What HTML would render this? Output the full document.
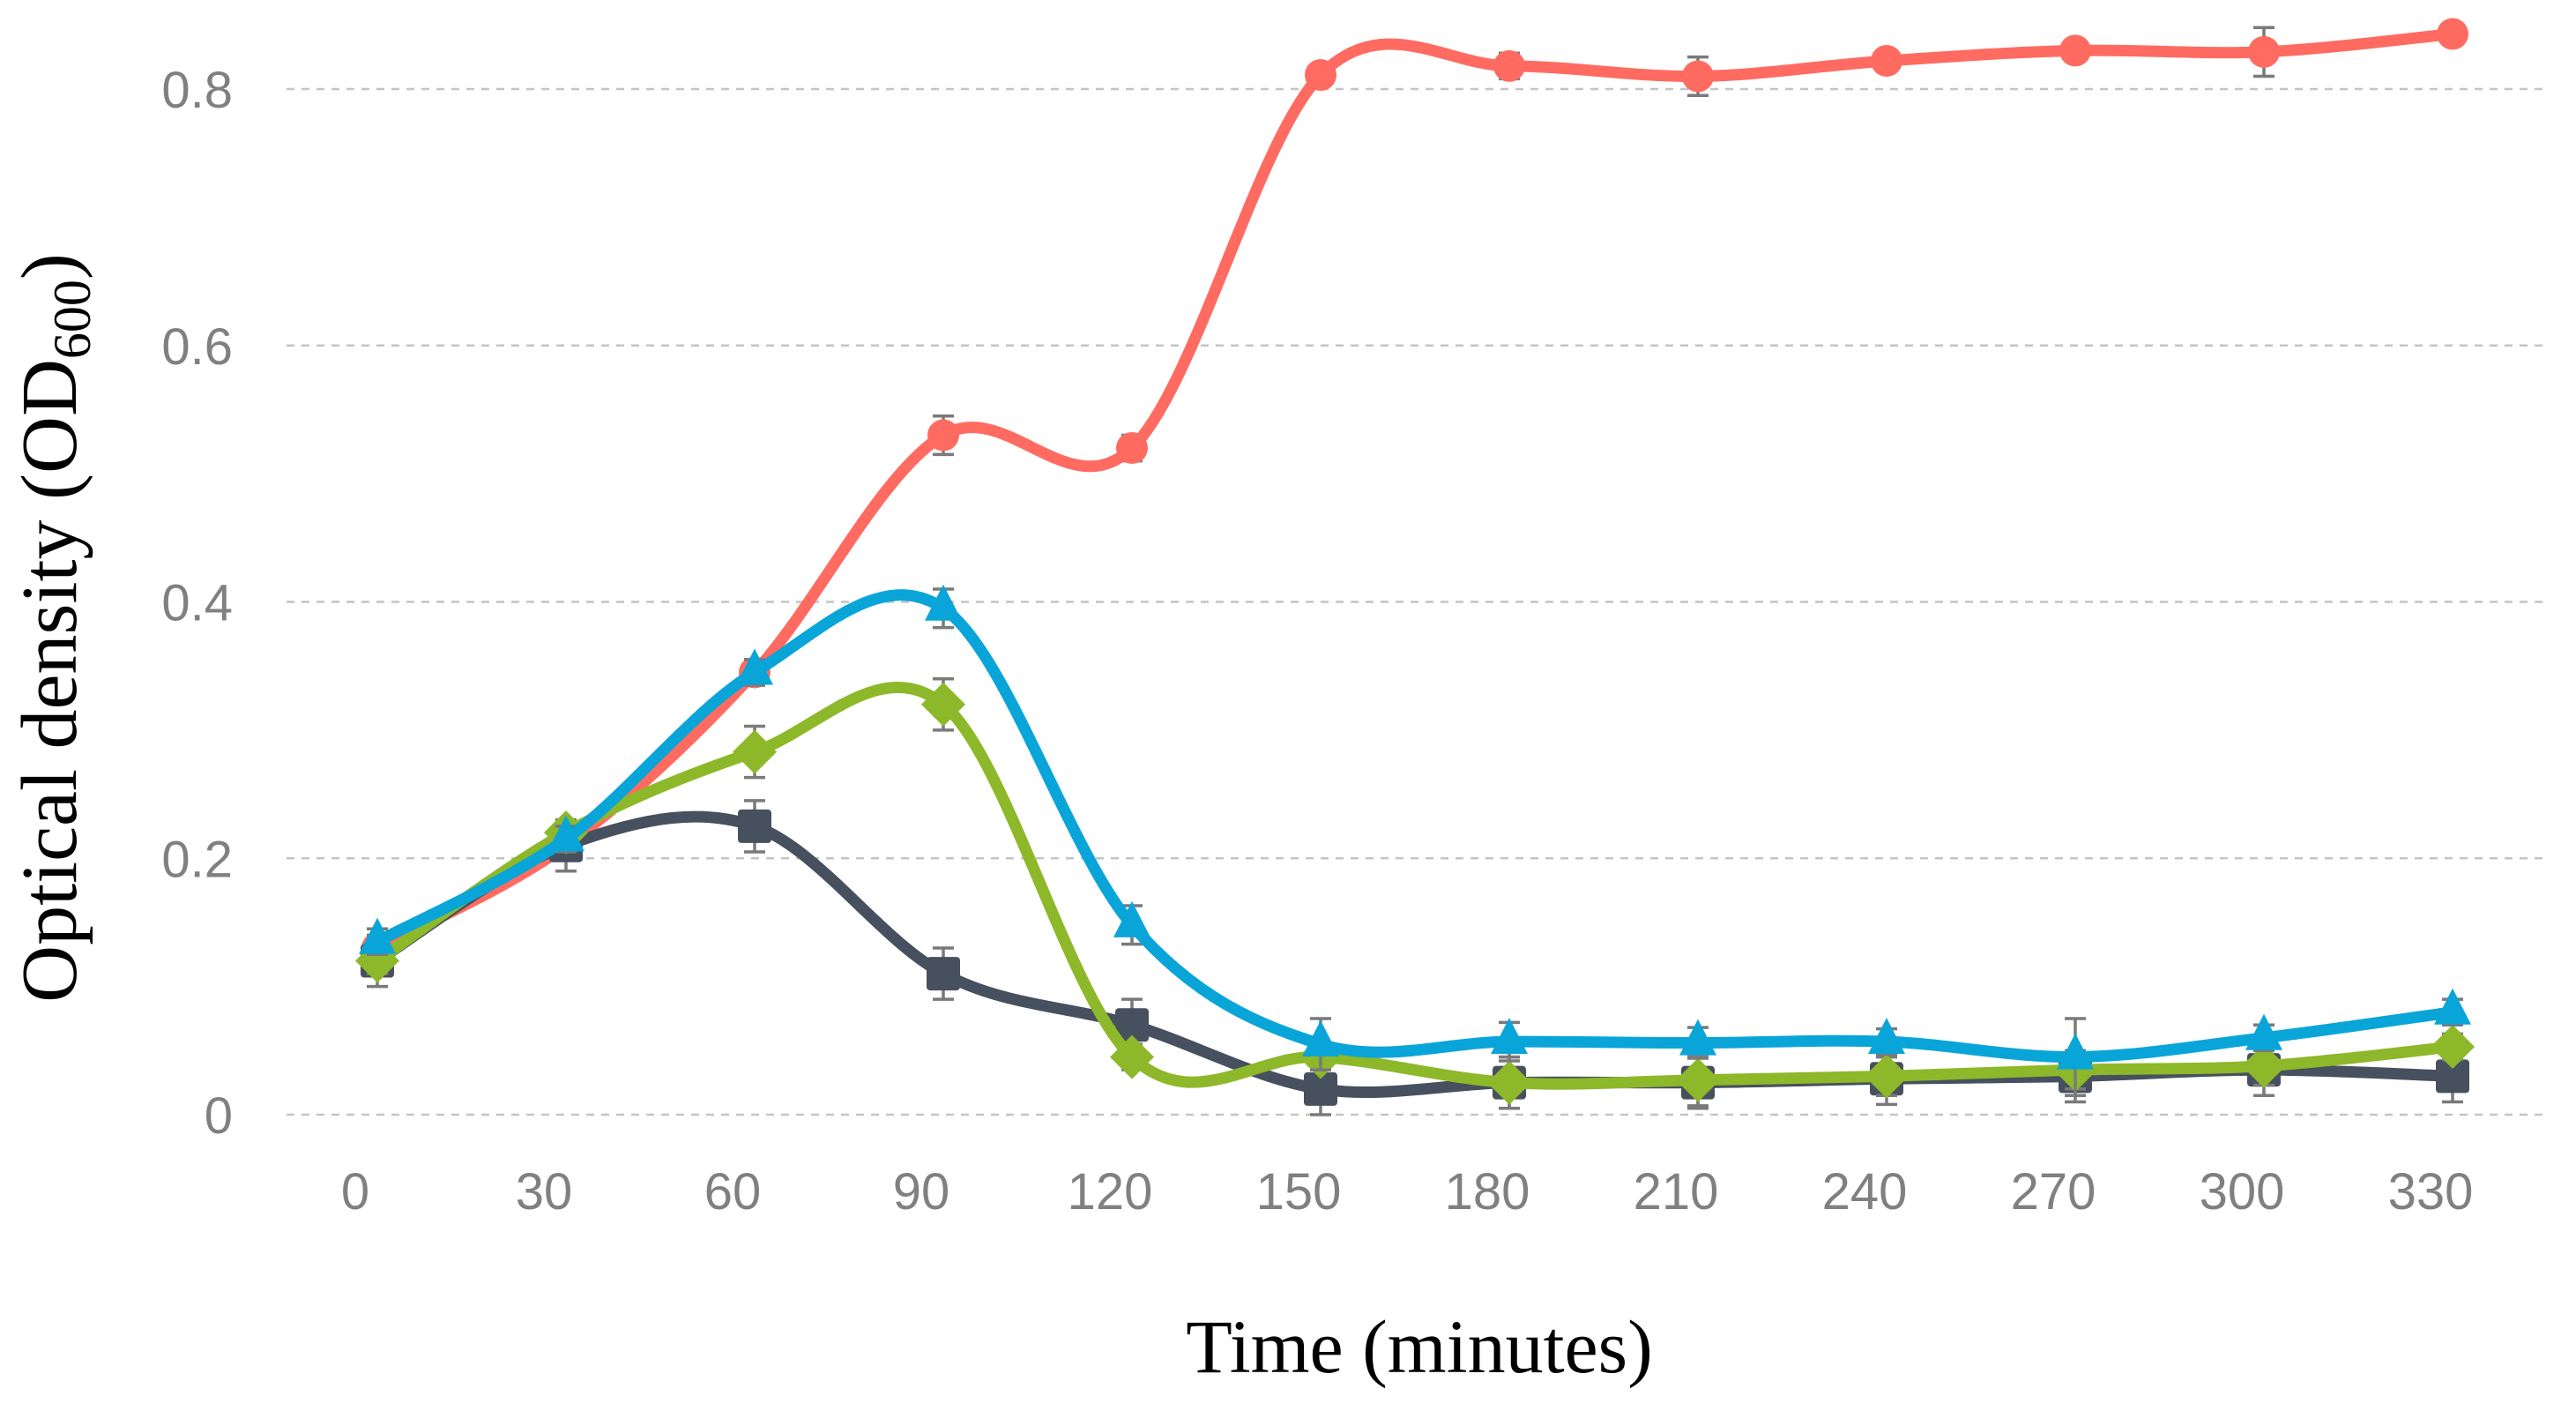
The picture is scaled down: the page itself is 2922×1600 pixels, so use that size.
<!DOCTYPE html>
<html><head><meta charset="utf-8"><style>
html,body{margin:0;padding:0;background:#fff;}
svg{display:block;}
</style></head><body>
<svg id="chart" width="2922" height="1600" viewBox="0 0 2922 1600" xmlns="http://www.w3.org/2000/svg">
<g id="grid"></g>
<g id="yticks"></g>
<g id="xticks"></g>
<g id="series"></g>
<text transform="translate(86,712) rotate(-90)" text-anchor="middle" font-family="Liberation Serif, serif" font-size="90" fill="#000">Optical density (OD<tspan font-size="60" dy="16">600</tspan><tspan dy="-16">)</tspan></text>
<text x="1610" y="1556" text-anchor="middle" font-family="Liberation Serif, serif" font-size="86" fill="#000">Time (minutes)</text>
</svg>
<script>
const times = [0,30,60,90,120,150,180,210,240,270,300,330];
const xTickLabels = ["0","30","60","90","120","150","180","210","240","270","300","330"];
const yTicks = [0,0.2,0.4,0.6,0.8];
const yTickLabels = ["0","0.2","0.4","0.6","0.8"];
const redValues   = [0.13,0.21,0.345,0.53,0.52,0.811,0.818,0.81,0.822,0.83,0.829,0.843];
const redErr      = [0.01,0.01,0.01,0.015,0.01,0.008,0.01,0.015,0.008,0.008,0.019,0.005];
const darkValues  = [0.12,0.21,0.225,0.11,0.07,0.02,0.025,0.025,0.028,0.03,0.035,0.03];
const darkErr     = [0.02,0.02,0.02,0.02,0.02,0.02,0.02,0.02,0.02,0.02,0.02,0.02];
const greenValues = [0.12,0.22,0.283,0.32,0.045,0.045,0.025,0.027,0.03,0.035,0.038,0.053];
const greenErr    = [0.01,0.01,0.02,0.02,0.01,0.01,0.02,0.02,0.015,0.015,0.015,0.01];
const blueValues  = [0.135,0.215,0.345,0.395,0.148,0.055,0.057,0.056,0.057,0.045,0.06,0.08];
const blueErr     = [0.01,0.01,0.01,0.015,0.015,0.02,0.015,0.012,0.01,0.03,0.01,0.01];

const NS="http://www.w3.org/2000/svg";
function xPos(t){return 428 + t/30*214;}
function xLabelPos(t){return xPos(t)-25;}
function yPos(v){return 1264 - v*1453.75;}
function mk(tag,parent){const e=document.createElementNS(NS,tag);parent.appendChild(e);return e;}

const grid=document.getElementById('grid');
const yt=document.getElementById('yticks');
yTicks.forEach((v,i)=>{
  const l=mk('line',grid);
  
  
  l.setAttribute('x1',325);l.setAttribute('x2',2887);
  l.setAttribute('y1',yPos(v));l.setAttribute('y2',yPos(v));
  l.setAttribute('stroke','#c4c4c4');l.setAttribute('stroke-width','2.5');l.setAttribute('stroke-dasharray','9 8');
  const t=mk('text',yt);
  
  
  t.setAttribute('x',264);t.setAttribute('y',yPos(v)+21);
  t.setAttribute('text-anchor','end');t.setAttribute('font-family','Liberation Sans, sans-serif');
  t.setAttribute('font-size','58');t.setAttribute('fill','#808080');
  t.textContent=yTickLabels[i];
});
const xt=document.getElementById('xticks');
times.forEach((tm,i)=>{
  const t=mk('text',xt);
  
  
  t.setAttribute('x',xLabelPos(tm));t.setAttribute('y',1371);
  t.setAttribute('text-anchor','middle');t.setAttribute('font-family','Liberation Sans, sans-serif');
  t.setAttribute('font-size','58');t.setAttribute('fill','#808080');
  t.textContent=xTickLabels[i];
});

function smoothPath(pts){
  let d='M'+pts[0][0]+','+pts[0][1];
  for(let i=0;i<pts.length-1;i++){
    const p0=pts[i-1]||pts[i],p1=pts[i],p2=pts[i+1],p3=pts[i+2]||p2;
    const c1=[p1[0]+(p2[0]-p0[0])/6,p1[1]+(p2[1]-p0[1])/6];
    const c2=[p2[0]-(p3[0]-p1[0])/6,p2[1]-(p3[1]-p1[1])/6];
    d+=' C'+c1[0]+','+c1[1]+' '+c2[0]+','+c2[1]+' '+p2[0]+','+p2[1];
  }
  return d;
}
const sg=document.getElementById('series');
function drawSeries(name,vals,errs,color,shape){
  const g=mk('g',sg);
  
  
  times.forEach((tm,i)=>{
    const x=xPos(tm),y1=yPos(vals[i]+errs[i]),y2=yPos(vals[i]-errs[i]);
    const e=mk('path',g);
    
    
    e.setAttribute('d',`M${x},${y1}V${y2}M${x-12},${y1}H${x+12}M${x-12},${y2}H${x+12}`);
    e.setAttribute('stroke','#7a7a7a');e.setAttribute('stroke-width','3.5');e.setAttribute('fill','none');
  });
  const pts=times.map((tm,i)=>[xPos(tm),yPos(vals[i])]);
  const p=mk('path',g);
  
  
  p.setAttribute('d',smoothPath(pts));
  p.setAttribute('stroke',color);p.setAttribute('stroke-width','13');p.setAttribute('fill','none');p.setAttribute('stroke-linejoin','round');
  pts.forEach(([x,y])=>{
    let m;
    if(shape==='circle'){m=mk('circle',g);m.setAttribute('cx',x);m.setAttribute('cy',y);m.setAttribute('r',18);}
    else if(shape==='square'){m=mk('rect',g);m.setAttribute('x',x-19);m.setAttribute('y',y-19);m.setAttribute('width',38);m.setAttribute('height',38);m.setAttribute('rx',4);}
    else if(shape==='diamond'){m=mk('polygon',g);m.setAttribute('points',`${x},${y-25} ${x+25},${y} ${x},${y+25} ${x-25},${y}`);}
    else {m=mk('polygon',g);m.setAttribute('points',`${x},${y-27} ${x+21},${y+14} ${x-21},${y+14}`);}
    
    
    m.setAttribute('fill',color);
  });
}
drawSeries('series-red',redValues,redErr,'#FF6B61','circle');
drawSeries('series-dark',darkValues,darkErr,'#46505E','square');
drawSeries('series-green',greenValues,greenErr,'#8DB82A','diamond');
drawSeries('series-blue',blueValues,blueErr,'#0AA5D8','triangle');
</script>
</body></html>
